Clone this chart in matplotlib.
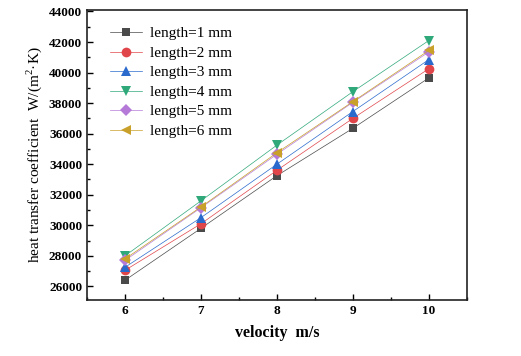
import matplotlib
matplotlib.use("Agg")
import matplotlib.pyplot as plt
from matplotlib.ticker import MultipleLocator

velocity = [6, 7, 8, 9, 10]
labels = ["length=1 mm", "length=2 mm", "length=3 mm", "length=4 mm", "length=5 mm", "length=6 mm"]
len1 = [26400, 29800, 33250, 36350, 39650]
len2 = [27050, 30100, 33600, 37000, 40250]
len3 = [27250, 30500, 34000, 37450, 40850]
len4 = [28000, 31600, 35250, 38750, 42100]
len5 = [27700, 31150, 34650, 38050, 41350]
len6 = [27800, 31200, 34750, 38100, 41450]
series = [len1, len2, len3, len4, len5, len6]

markers = ["s", "o", "^", "v", "D", "<"]
colors = ["#4a4a4a", "#e0454a", "#2a6acc", "#2fa87a", "#b57ad8", "#c8a02a"]
sizes = [6, 7, 7, 7, 6, 7]

plt.rcParams['font.family'] = ['Liberation Serif', 'DejaVu Serif']
plt.rcParams['mathtext.fontset'] = 'custom'
plt.rcParams['mathtext.rm'] = 'Liberation Serif'

fig = plt.figure(figsize=(5.21, 3.56), dpi=100)
ax = fig.add_axes([0.167, 0.157, 0.729, 0.815])

for vals, lab, m, c, s in zip(series, labels, markers, colors, sizes):
    ax.plot(velocity, vals, marker=m, color=c, markersize=s, linewidth=0.5,
            markeredgewidth=0, label=lab)

ax.set_xlim(5.5, 10.5)
ax.set_ylim(25100, 44100)
ax.xaxis.set_major_locator(MultipleLocator(1))
ax.xaxis.set_minor_locator(MultipleLocator(0.5))
ax.yaxis.set_major_locator(MultipleLocator(2000))
ax.yaxis.set_minor_locator(MultipleLocator(1000))
ax.tick_params(which='both', direction='in', top=False, right=False, labelsize=9.5, width=1.0)
ax.tick_params(which='major', length=4)
ax.tick_params(which='minor', length=2.5)
for lab in ax.get_xticklabels() + ax.get_yticklabels():
    lab.set_fontweight('bold')
for sp in ax.spines.values():
    sp.set_linewidth(1.2)
    sp.set_color('#222222')

ax.set_xlabel("velocity  m/s", fontsize=11.5, fontweight='bold')
ax.xaxis.set_label_coords(0.5, -0.085)
ax.set_ylabel("heat transfer coefficient  W/(m$^2$·K)", fontsize=11)
ax.yaxis.set_label_coords(-0.113, 0.5)

leg = ax.legend(loc='upper left', bbox_to_anchor=(0.02, 0.995), frameon=False, fontsize=11,
                handlelength=2.1, handletextpad=0.5, labelspacing=0.38, borderaxespad=0.6)

fig.savefig("out.png", dpi=100)
